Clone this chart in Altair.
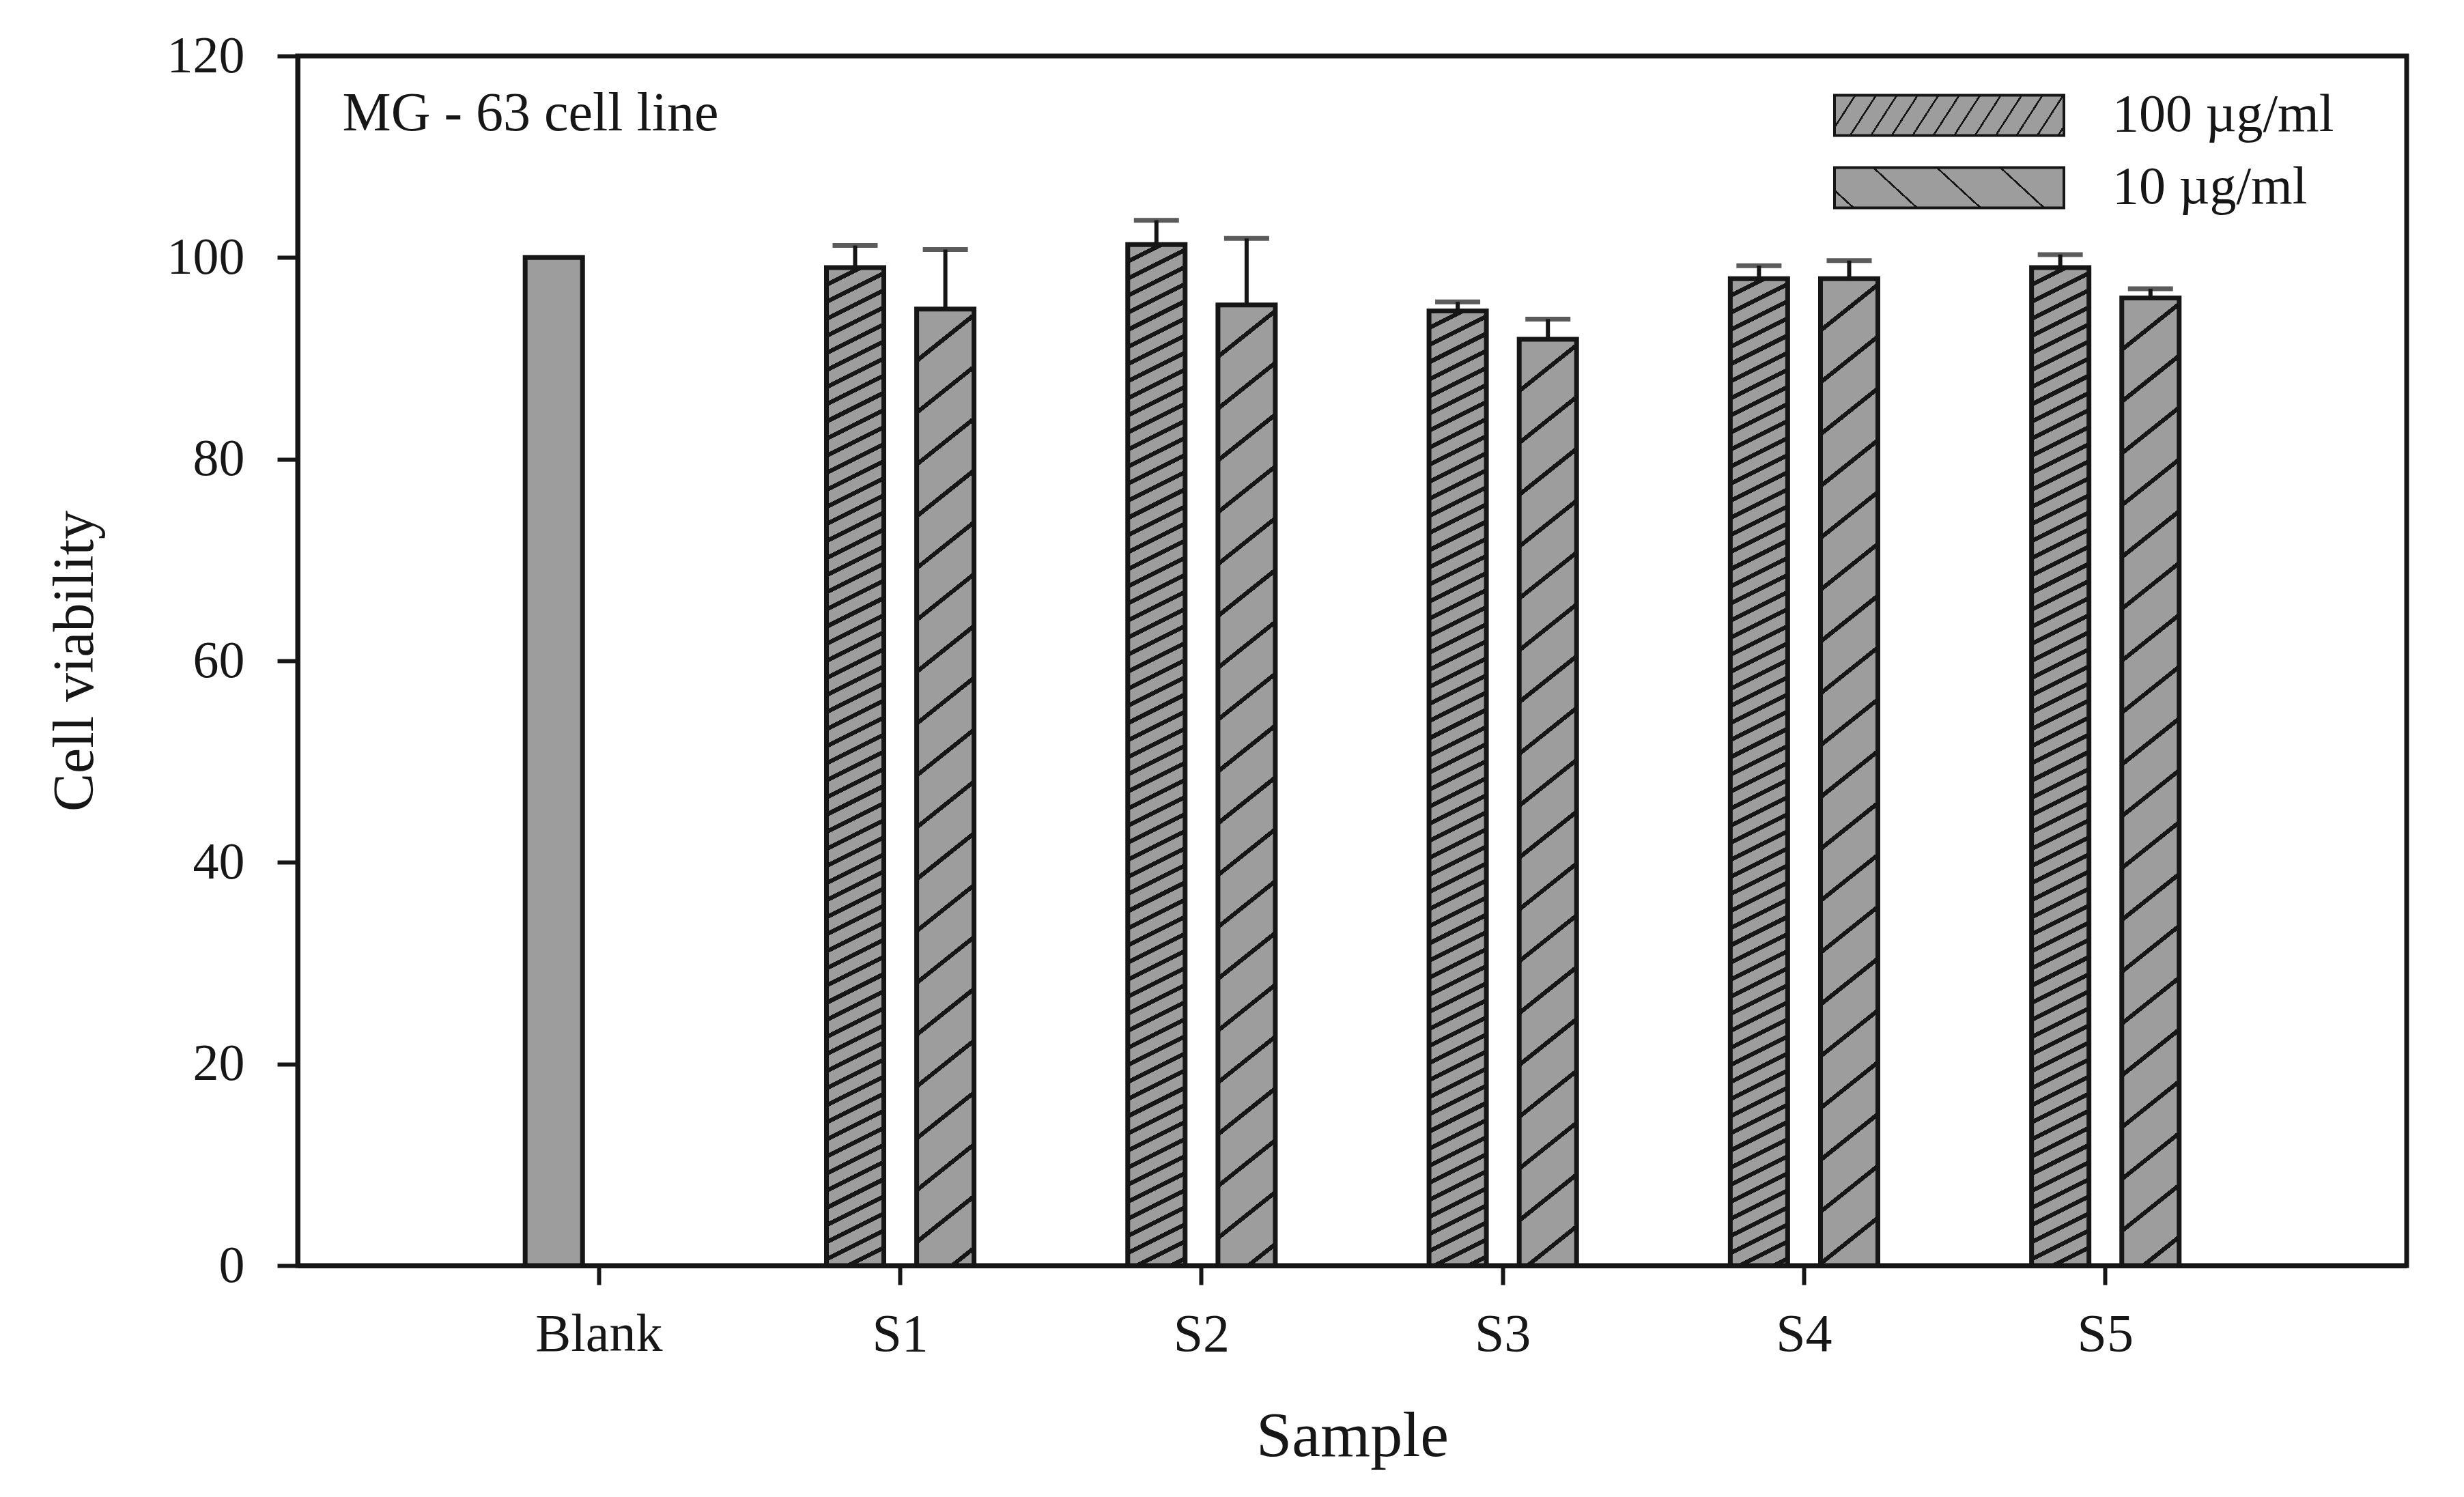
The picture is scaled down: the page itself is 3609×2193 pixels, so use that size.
import json
import math
import altair as alt
import pandas as pd

# ---------------- data ----------------
samples = ["Blank", "S1", "S2", "S3", "S4", "S5"]
conc_labels = ["100 \u00b5g/ml", "10 \u00b5g/ml"]
v100 = [100.0, 99.0, 101.3, 94.7, 97.9, 99.0]
e100 = [0.0, 2.2, 2.4, 0.9, 1.3, 1.3]
v10 = [None, 94.9, 95.3, 91.9, 97.9, 96.0]
e10 = [None, 5.9, 6.6, 2.0, 1.8, 0.9]
y_ticks = [0, 20, 40, 60, 80, 100, 120]
panel_label = "MG - 63 cell line"

# ---------------- style ----------------
FONT = "Liberation Serif"
INK = "#161616"
GRAY = "#9d9d9d"
W, H = 3089, 1772
Y_MAX = 120
PAD_IN_MAIN, PAD_OUT_MAIN = 0.0, 0.5
PAD_IN_SUB, PAD_OUT_SUB = 0.364, 0.852

step_main = W / (len(samples) - PAD_IN_MAIN + 2 * PAD_OUT_MAIN)
step_sub = step_main * (1 - PAD_IN_MAIN) / (len(conc_labels) - PAD_IN_SUB + 2 * PAD_OUT_SUB)
BAR_W = step_sub * (1 - PAD_IN_SUB)


def hatch(w, h, d, period, thick, bg=GRAY, fg=INK, phase=0.0):
    """Striped linear gradient (objectBoundingBox units) giving straight hatch
    lines of pixel direction d, perpendicular period and thickness in px."""
    dx, dy = d
    L = math.hypot(dx, dy)
    nx, ny = -dy / L, dx / L
    corners = [(0.0, 0.0), (1.0, 0.0), (0.0, 1.0), (1.0, 1.0)]
    fv = [nx * u * w + ny * v * h for u, v in corners]
    fmin, fmax = min(fv), max(fv)
    p1 = corners[fv.index(fmin)]
    a, b = nx * w, ny * h
    lam = (fmax - fmin) / (a * a + b * b)
    p2 = (p1[0] + lam * a, p1[1] + lam * b)
    span = fmax - fmin
    stops = [{"offset": 0, "color": bg}]
    c = fmin + phase
    while c - thick / 2 > fmin:
        c -= period
    while c - thick / 2 < fmax:
        t0 = max(0.0, (c - thick / 2 - fmin) / span)
        t1 = min(1.0, (c + thick / 2 - fmin) / span)
        if t1 > t0:
            t0, t1 = round(t0, 6), round(t1, 6)
            stops += [{"offset": t0, "color": bg}, {"offset": t0, "color": fg},
                      {"offset": t1, "color": fg}, {"offset": t1, "color": bg}]
        c += period
    stops.append({"offset": 1, "color": bg})
    return {"gradient": "linear", "x1": round(p1[0], 6), "y1": round(p1[1], 6),
            "x2": round(p2[0], 6), "y2": round(p2[1], 6), "stops": stops}


# ---------------- table ----------------
rows = []
for i, s in enumerate(samples):
    rows.append({"sample": s, "conc": conc_labels[0], "value": v100[i], "err": e100[i]})
    if v10[i] is not None:
        rows.append({"sample": s, "conc": conc_labels[1], "value": v10[i], "err": e10[i]})
df = pd.DataFrame(rows)
df["top"] = df["value"] + df["err"]
df["key"] = df["sample"] + "|" + df["conc"]

x_scale = alt.Scale(domain=samples, paddingInner=PAD_IN_MAIN, paddingOuter=PAD_OUT_MAIN)

x_axis = alt.Axis(
    orient="bottom", title="Sample", labelFont=FONT, labelFontSize=78, labelColor=INK,
    labelBaseline="alphabetic", labelPadding=96, labelAngle=0, labelLimit=1000,
    tickSize=28, tickWidth=6, tickColor=INK, domainWidth=7, domainColor=INK,
    titleFont=FONT, titleFontSize=94, titleFontWeight="normal", titleColor=INK,
    titleBaseline="alphabetic", titleX=W / 2, titleY=278, titleAnchor="middle",
    grid=False,
)
top_axis = alt.Axis(
    orient="top", title=panel_label, labels=False, ticks=False, domain=False, grid=False,
    titleFont=FONT, titleFontSize=80, titleFontWeight="normal", titleColor=INK,
    titleBaseline="alphabetic", titleAlign="left", titleAnchor="start",
    titleX=65, titleY=108,
)
y_axis = alt.Axis(
    title="Cell viability", values=y_ticks, labelFont=FONT, labelFontSize=76,
    labelColor=INK, labelPadding=48, tickSize=30, tickWidth=6, tickColor=INK,
    domainWidth=7, domainColor=INK, titleFont=FONT, titleFontSize=84,
    titleFontWeight="normal", titleColor=INK, titleAngle=-90,
    titleBaseline="alphabetic", titleAlign="center", titleX=-301, titleY=H / 2,
    grid=False,
)

x_plain = alt.X("sample:N", scale=x_scale, axis=None)
x_with_axis = alt.X("sample:N", scale=x_scale, axis=x_axis)
xo_enc = alt.XOffset("conc:N", scale=alt.Scale(domain=conc_labels, paddingInner=PAD_IN_SUB,
                                               paddingOuter=PAD_OUT_SUB))


def y_enc(field):
    return alt.Y(f"{field}:Q", scale=alt.Scale(domain=[0, Y_MAX], nice=False), axis=y_axis)


layers = []
for _, r in df.iterrows():
    h = r["value"] * H / Y_MAX
    if r["sample"] == "Blank":
        fill = GRAY
    elif r["conc"] == conc_labels[0]:
        fill = hatch(BAR_W, h, (1, -0.5), 22.4, 6.3)
    else:
        fill = hatch(BAR_W, h, (1, -0.8), 59.3, 6.3)
    layers.append(
        alt.Chart(df)
        .transform_filter(alt.datum.key == r["key"])
        .mark_bar(fill=fill, stroke=INK, strokeWidth=7)
        .encode(x=x_plain, xOffset=xo_enc, y=y_enc("value"))
    )

err_df = df[df["err"] > 0]
layers.append(
    alt.Chart(err_df).mark_rule(color=INK, strokeWidth=6)
    .encode(x=x_with_axis, xOffset=xo_enc, y=y_enc("value"), y2="top:Q")
)
layers.append(
    alt.Chart(err_df).mark_tick(color=INK, thickness=7, size=66, orient="horizontal")
    .encode(x=x_plain, xOffset=xo_enc, y=y_enc("top"))
)

# legend swatches (hatched) through a fill scale; panel label as top-axis title
SW, SH = 336, 59
leg100 = hatch(SW, SH, (1, -1.55), 25.6, 2.6)
leg10 = hatch(SW, SH, (1, 0.92), 63.0, 2.6)
r = SH / 2.0
half_w = SW / 2.0 / r
sym_path = f"M{-half_w:.3f},-1H{half_w:.3f}V1H{-half_w:.3f}Z"
legend_df = pd.DataFrame({"conc": conc_labels, "sample": samples[:2]})
layers.append(
    alt.Chart(legend_df).transform_filter("false").mark_bar()
    .encode(
        x=alt.X("sample:N", scale=x_scale, axis=top_axis),
        fill=alt.Fill(
            "conc:N",
            scale=alt.Scale(domain=conc_labels,
                            range=[{"expr": json.dumps(leg100)}, {"expr": json.dumps(leg10)}]),
            legend=alt.Legend(
                title=None, orient="none", legendX=2380, legendY=48, direction="vertical",
                padding=0, symbolType=sym_path, symbolSize=SH * SH, symbolStrokeWidth=4,
                symbolStrokeColor=INK, labelFont=FONT, labelFontSize=78, labelColor=INK,
                labelOffset=200, labelLimit=2000, rowPadding=28,
            ),
        ),
    )
)

chart = (
    alt.layer(*layers)
    .resolve_axis(x="independent")
    .properties(
        width=W, height=H,
        autosize=alt.AutoSizeParams(type="none"),
        padding={"left": 428, "top": 74, "right": 76, "bottom": 331},
    )
    .configure_view(stroke=INK, strokeWidth=7)
)

chart.save("out.html", embed_options={"renderer": "svg", "actions": False})
